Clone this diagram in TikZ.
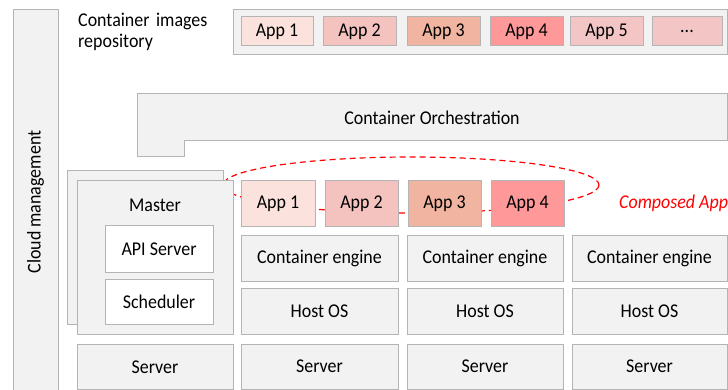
\documentclass[tikz,border=0pt]{standalone}
\usepackage{fontspec}
\setmainfont{Carlito}[FakeStretch=0.92]
\definecolor{boxfill}{HTML}{F2F2F2}
\definecolor{boxline}{HTML}{B4B4B4}
\definecolor{appA}{HTML}{FCE2DC}
\definecolor{appB}{HTML}{F4C3C0}
\definecolor{appC}{HTML}{F0B4A0}
\definecolor{appD}{HTML}{FF9999}
\definecolor{appE}{HTML}{F4C5C5}
\definecolor{compred}{HTML}{FF0000}
\begin{document}
\begin{tikzpicture}[x=1pt,y=-1pt,
  box/.style={draw=boxline, fill=boxfill, line width=1pt, inner sep=0pt,
    font=\fontsize{19.5}{21}\selectfont},
  wbox/.style={box, fill=white},
  app/.style={box, minimum height=29pt},
  capp/.style={box, minimum height=46pt, minimum width=73pt},
  tier/.style={box, minimum height=46pt},
  lbl/.style={font=\fontsize{19.5}{21}\selectfont, inner sep=0pt}]
\useasboundingbox (0,0) rectangle (728,390);

% cloud management
\node[box, rotate=90, minimum width=384pt, minimum height=45pt] (cloud) at (35.5,202) {Cloud management};

% repository
\node[lbl, anchor=north west, align=left, text width=150pt] (repolbl) at (78,13) {Container images\\repository};
\node[box, minimum width=494pt, minimum height=45pt] (repo) at (480,32.5) {};
\node[app, fill=appA, minimum width=72pt] (r1) at (277,31.5) {App 1};
\node[app, fill=appB, minimum width=73pt] (r2) at (359.5,31.5) {App 2};
\node[app, fill=appC, minimum width=73pt] (r3) at (443.5,31.5) {App 3};
\node[app, fill=appD, minimum width=73pt] (r4) at (526.5,31.5) {App 4};
\node[app, fill=appE, minimum width=73pt] (r5) at (606.5,31.5) {App 5};
\node[app, fill=appE, minimum width=70pt] (r6) at (687,31.5) {...};

% orchestration
\draw[draw=boxline, fill=boxfill, line width=1pt]
  (137,94) -- (727,94) -- (727,141) -- (184,141) -- (184,157) -- (137,157) -- cycle;
\node[lbl] (orch) at (432,118) {Container Orchestration};

% composed app ellipse
\draw[compred, line width=1.2pt, dash pattern=on 6pt off 4pt] (411,185) ellipse [x radius=188, y radius=28];
\node[lbl, anchor=west, text=compred, font=\fontsize{19.5}{21}\selectfont\itshape] (comp) at (619,203) {Composed App};

% master
\node[box, minimum width=156pt, minimum height=153pt] (mback) at (145,247.5) {};
\node[box, minimum width=156pt, minimum height=153pt] (master) at (155,257.5) {};
\node[lbl] (mlbl) at (155,205) {Master};
\node[wbox, minimum width=108pt, minimum height=46pt] (api) at (159,249) {API Server};
\node[wbox, minimum width=108pt, minimum height=45pt] (sched) at (159,301.5) {Scheduler};
\node[box, minimum width=156pt, minimum height=45pt] (srv0) at (155,367) {Server};

% composed apps
\node[capp, fill=appA, minimum width=74pt] (c1) at (278,204) {App 1};
\node[capp, fill=appB] (c2) at (361.5,204) {App 2};
\node[capp, fill=appC] (c3) at (444.5,204) {App 3};
\node[capp, fill=appD] (c4) at (527.5,204) {App 4};

% nodes
\node[tier, minimum width=157pt] (ce1) at (319.5,258) {Container engine};
\node[tier, minimum width=156pt] (ce2) at (485,258) {Container engine};
\node[tier, minimum width=155pt] (ce3) at (649.5,258) {Container engine};
\node[tier, minimum width=157pt] (os1) at (319.5,311) {Host OS};
\node[tier, minimum width=156pt] (os2) at (485,311) {Host OS};
\node[tier, minimum width=155pt] (os3) at (649.5,311) {Host OS};
\node[box, minimum width=157pt, minimum height=45pt] (srv1) at (319.5,366.5) {Server};
\node[box, minimum width=156pt, minimum height=45pt] (srv2) at (485,366.5) {Server};
\node[box, minimum width=155pt, minimum height=45pt] (srv3) at (649.5,366.5) {Server};
\end{tikzpicture}
\end{document}
